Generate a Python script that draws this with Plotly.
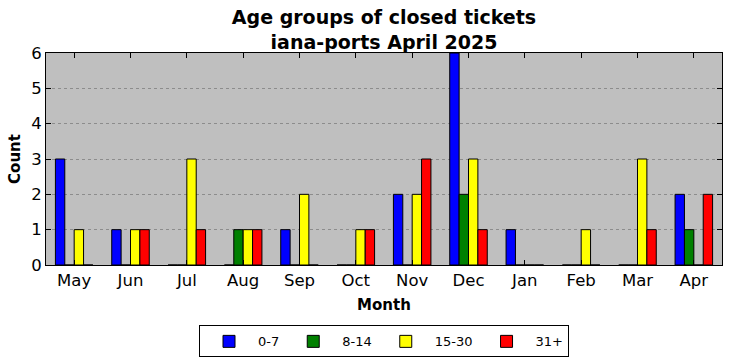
import plotly.graph_objects as go

months = ["May", "Jun", "Jul", "Aug", "Sep", "Oct", "Nov", "Dec", "Jan", "Feb", "Mar", "Apr"]
series_names = ["0-7", "8-14", "15-30", "31+"]
age_0_7 = [3, 1, 0, 0, 1, 0, 2, 6, 1, 0, 0, 2]
age_8_14 = [0, 0, 0, 1, 0, 0, 0, 2, 0, 0, 0, 1]
age_15_30 = [1, 1, 3, 1, 2, 1, 2, 3, 0, 1, 3, 0]
age_31_plus = [0, 1, 1, 1, 0, 1, 3, 1, 0, 0, 1, 2]
colors = ["#0000ff", "#008000", "#ffff00", "#ff0000"]
y_ticks = [0, 1, 2, 3, 4, 5, 6]

FONT = "DejaVu Sans"

fig = go.Figure()
for name, vals, col in zip(series_names, [age_0_7, age_8_14, age_15_30, age_31_plus], colors):
    fig.add_trace(go.Bar(
        x=list(range(len(months))), y=vals, name=name,
        marker=dict(color=col, line=dict(color="black", width=1)),
        offsetgroup=name,
    ))

fig.update_layout(
    width=732, height=361,
    margin=dict(l=46, r=10, t=53, b=96, autoexpand=False),
    paper_bgcolor="white",
    plot_bgcolor="#bfbfbf",
    barmode="group",
    bargap=0.334,
    bargroupgap=0,
    font=dict(family=FONT, color="black"),
    title=dict(
        text="<b>Age groups of closed tickets<br>iana-ports April 2025</b>",
        x=0.5, xref="paper", xanchor="center",
        y=1 - 24 / 361, yref="container", yanchor="middle",
        font=dict(size=19, family=FONT, color="black"),
        automargin=False,
    ),
    xaxis=dict(
        range=[-0.5, len(months) - 0.5],
        tickmode="array",
        tickvals=list(range(len(months))),
        ticktext=months,
        tickfont=dict(size=16.5),
        ticks="inside", ticklen=5, tickcolor="black",
        showline=True, linecolor="black", linewidth=1, mirror="ticks",
        showgrid=False, zeroline=False, automargin=False,
        title=dict(text="<b>Month</b>", font=dict(size=15), standoff=10),
    ),
    yaxis=dict(
        range=[0, 6],
        tickmode="array", tickvals=y_ticks,
        tickfont=dict(size=16.5),
        ticks="inside", ticklen=5, tickcolor="black",
        showline=True, linecolor="black", linewidth=1, mirror="ticks",
        showgrid=True, gridcolor="#8c8c8c", griddash="dot", gridwidth=1,
        zeroline=False, automargin=False,
        title=dict(text="<b>Count</b>", font=dict(size=15), standoff=6),
    ),
    legend=dict(
        orientation="h",
        x=0.5, xanchor="center", xref="paper",
        y=-0.285, yanchor="top",
        bordercolor="black", borderwidth=1,
        bgcolor="white",
        font=dict(size=13),
        itemwidth=48,
        traceorder="normal",
    ),
)

fig.write_html("out.html", config={"displayModeBar": False},
               post_script="document.body.style.margin='0';")
